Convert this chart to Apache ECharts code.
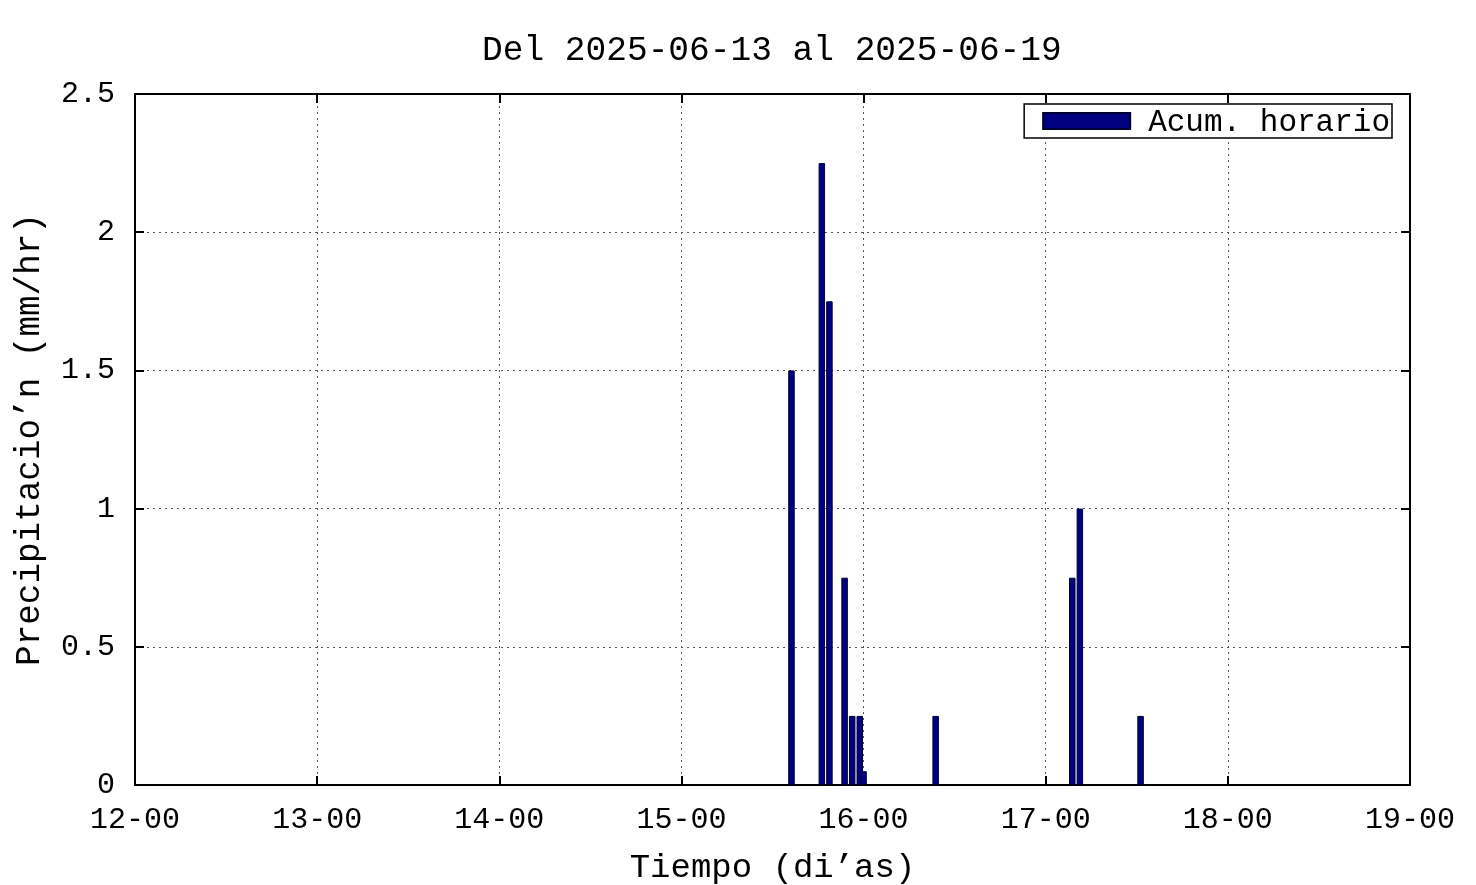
<!DOCTYPE html>
<html><head><meta charset="utf-8">
<script src="https://cdn.jsdelivr.net/npm/echarts@6/dist/echarts.min.js"></script>
<style>html,body{margin:0;padding:0;background:#fff}#c{width:1476px;height:885px}</style>
</head><body><div id="c"></div>
<script>
// Hours elapsed since 2025-06-12 00:00 (x axis starts at "12-00")
const barHours = [86.5, 90.5, 91.5, 93.5, 94.5, 95.5, 96.0, 105.5, 123.5, 124.5, 132.5];
const barValues = [1.5, 2.25, 1.75, 0.75, 0.25, 0.25, 0.05, 0.25, 0.75, 1.0, 0.25];
const dayLabels = ['12-00','13-00','14-00','15-00','16-00','17-00','18-00','19-00'];
const yTicks = [0, 0.5, 1, 1.5, 2, 2.5];
const titleText = 'Del 2025-06-13 al 2025-06-19';
const seriesName = 'Acum. horario';

const FONT = 'Liberation Mono';
const chart = echarts.init(document.getElementById('c'));
const data = barHours.map((h, i) => [h, barValues[i]]);
const gridLine = {show: true, lineStyle: {color: '#555', type: [2, 4], width: 1}};
chart.setOption({
  animation: false,
  title: {text: titleText, left: 477, top: 28,
    textStyle: {fontFamily: FONT, fontWeight: 'normal', fontSize: 34.5, color: '#000'}},
  legend: {data: [{name: seriesName}], right: 84, top: 104, itemWidth: 87, itemHeight: 16,
    borderColor: '#000', borderWidth: 1.5, padding: [0, 2, 0, 18], itemGap: 10,
    backgroundColor: '#fff', icon: 'rect',
    formatter: '{t|{name}}',
    textStyle: {fontFamily: FONT, fontSize: 31, color: '#000',
      rich: {t: {fontFamily: FONT, fontSize: 31, color: '#000', lineHeight: 24, padding: [3, 0, 0, 13]}}}},
  grid: {left: 135, right: 66, top: 94, bottom: 100, outerBoundsMode: 'none', containLabel: false},
  xAxis: [{
    type: 'value', min: 0, max: 168, interval: 24,
    name: 'Tiempo (di\u2019as)', nameLocation: 'middle', nameGap: 66,
    nameTextStyle: {fontFamily: FONT, fontSize: 34, color: '#000'},
    axisLine: {show: true, onZero: false, lineStyle: {color: '#000', width: 2}},
    axisTick: {show: true, inside: true, length: 9, lineStyle: {color: '#000', width: 2}},
    axisLabel: {margin: 20, fontFamily: FONT, fontSize: 30, color: '#000',
      formatter: v => dayLabels[Math.round(v / 24)]},
    splitLine: gridLine
  }, {
    type: 'value', min: 0, max: 168, interval: 24, position: 'top',
    axisLine: {show: true, onZero: false, lineStyle: {color: '#000', width: 2}},
    axisTick: {show: true, inside: true, length: 9, lineStyle: {color: '#000', width: 2}},
    axisLabel: {show: false}, splitLine: {show: false}
  }],
  yAxis: [{
    type: 'value', min: 0, max: 2.5, interval: 0.5,
    name: 'Precipitacio\u2019n (mm/hr)', nameLocation: 'middle', nameGap: 88,
    nameTextStyle: {fontFamily: FONT, fontSize: 34.3, color: '#000'},
    axisLine: {show: true, onZero: false, lineStyle: {color: '#000', width: 2}},
    axisTick: {show: true, inside: true, length: 9, lineStyle: {color: '#000', width: 2}},
    axisLabel: {margin: 20, fontFamily: FONT, fontSize: 30, color: '#000',
      formatter: v => String(yTicks[Math.round(v / 0.5)])},
    splitLine: gridLine
  }, {
    type: 'value', min: 0, max: 2.5, interval: 0.5, position: 'right',
    axisLine: {show: true, onZero: false, lineStyle: {color: '#000', width: 2}},
    axisTick: {show: true, inside: true, length: 9, lineStyle: {color: '#000', width: 2}},
    axisLabel: {show: false}, splitLine: {show: false}
  }],
  series: [{
    name: seriesName, type: 'bar', data: data, barWidth: 6.5, barGap: '-100%',
    itemStyle: {color: '#000080', borderColor: '#000033', borderWidth: 1}
  }]
});
</script></body></html>
